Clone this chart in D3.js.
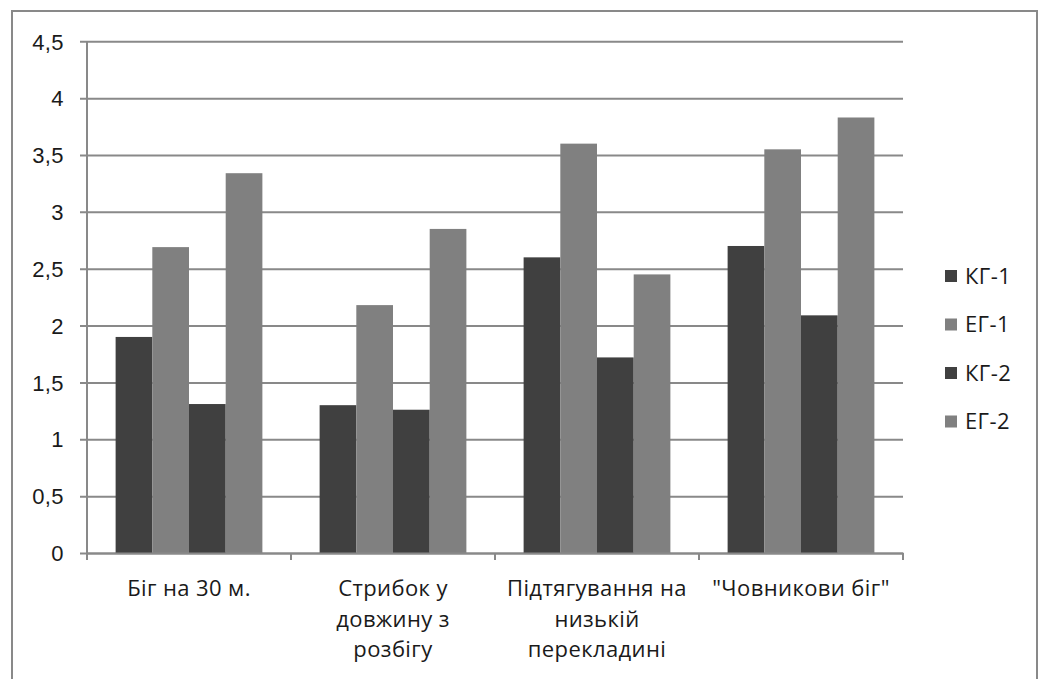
<!DOCTYPE html>
<html>
<head>
<meta charset="utf-8">
<script src="https://cdn.jsdelivr.net/npm/d3@7/dist/d3.min.js"></script>
<style>
  html, body { margin: 0; padding: 0; background: #fff; }
  svg { display: block; font-family: "Open Sans", "Noto Sans", sans-serif; }
  .lbl { font-size: 22px; letter-spacing: 0.4px; }
</style>
</head>
<body>
<svg id="chart" width="1042" height="679"></svg>
<script>
// Exercise categories (x axis), one label line per array entry
const categories = ["Біг на 30 м.", "Стрибок у довжину з розбігу", "Підтягування на низькій перекладині", "\"Човникови біг\""];
const categoryLines = [
  ["Біг на 30 м."],
  ["Стрибок у", "довжину з", "розбігу"],
  ["Підтягування на", "низькій", "перекладині"],
  ["\"Човникови біг\""]
];

// Groups
const seriesNames = ["КГ-1", "ЕГ-1", "КГ-2", "ЕГ-2"];
const seriesColors = ["#404040", "#808080", "#404040", "#808080"];

// Scores per exercise for each group
const kg1 = [1.90, 1.30, 2.60, 2.70];
const eg1 = [2.69, 2.18, 3.60, 3.55];
const kg2 = [1.31, 1.26, 1.72, 2.09];
const eg2 = [3.34, 2.85, 2.45, 3.83];
const seriesValues = [kg1, eg1, kg2, eg2];

// Value axis ticks
const yTicks = [0, 0.5, 1, 1.5, 2, 2.5, 3, 3.5, 4, 4.5];

const svg = d3.select("#chart");
const gridColor = "#898989";
const textColor = "#1a1a1a";

const plot = { left: 87, right: 903, top: 41.3, bottom: 553 };

const y = d3.scaleLinear().domain([0, 4.5]).range([plot.bottom, plot.top]);
const x0 = d3.scaleBand().domain(categories).range([plot.left, plot.right]).padding(0);
const x1 = d3.scaleBand().domain(seriesNames).range([0, x0.bandwidth()])
  .paddingInner(0).paddingOuter(0.78);

const fmt = d3.formatLocale({ decimal: ",", thousands: " ", grouping: [3], currency: ["", ""] }).format("~g");

// Outer frame
svg.append("rect")
  .attr("x", 12).attr("y", 11)
  .attr("width", 1025).attr("height", 700)
  .attr("fill", "none")
  .attr("stroke", gridColor)
  .attr("stroke-width", 2);

// Horizontal gridlines with the value axis
const yAxis = d3.axisLeft(y)
  .tickValues(yTicks)
  .tickSize(-(plot.right - plot.left))
  .tickSizeOuter(0)
  .tickPadding(0)
  .tickFormat(fmt);

const gy = svg.append("g")
  .attr("transform", `translate(${plot.left},0)`)
  .call(yAxis);
gy.select(".domain").remove();
gy.selectAll(".tick line")
  .attr("x1", -7)
  .attr("stroke", gridColor)
  .attr("stroke-width", 2);
gy.selectAll(".tick text")
  .attr("class", "lbl")
  .attr("x", -23)
  .attr("dy", "0.35em")
  .attr("fill", textColor);

// Vertical value axis line
svg.append("line")
  .attr("x1", plot.left).attr("x2", plot.left)
  .attr("y1", plot.top).attr("y2", plot.bottom)
  .attr("stroke", gridColor)
  .attr("stroke-width", 2);

// Bars
const groups = svg.append("g").selectAll("g")
  .data(categories)
  .join("g")
  .attr("transform", d => `translate(${x0(d)},0)`);

groups.selectAll("rect")
  .data((d, i) => seriesNames.map((s, k) => ({ s, k, v: seriesValues[k][i] })))
  .join("rect")
  .attr("x", d => x1(d.s))
  .attr("y", d => y(d.v))
  .attr("width", x1.bandwidth())
  .attr("height", d => y(0) - y(d.v))
  .attr("fill", d => seriesColors[d.k]);

// Category axis
const xAxis = d3.axisBottom(x0).tickSize(0).tickFormat("");
const gx = svg.append("g")
  .attr("transform", `translate(0,${plot.bottom})`)
  .call(xAxis);
gx.select(".domain")
  .attr("stroke", gridColor)
  .attr("stroke-width", 2);

// Tick marks between categories
const boundaries = categories.map(c => x0(c)).concat([x0(categories[categories.length - 1]) + x0.bandwidth()]);
gx.selectAll(".sep")
  .data(boundaries)
  .join("line")
  .attr("class", "sep")
  .attr("x1", d => d).attr("x2", d => d)
  .attr("y1", 0).attr("y2", 7)
  .attr("stroke", gridColor)
  .attr("stroke-width", 2);

// Category labels
const labels = svg.append("g").selectAll("text")
  .data(categories)
  .join("text")
  .attr("class", "lbl")
  .attr("x", d => x0(d) + x0.bandwidth() / 2)
  .attr("y", 596)
  .attr("text-anchor", "middle")
  .attr("fill", textColor);
labels.selectAll("tspan")
  .data((d, i) => categoryLines[i])
  .join("tspan")
  .attr("x", function () { return d3.select(this.parentNode).attr("x"); })
  .attr("dy", (d, i) => i === 0 ? 0 : 30.5)
  .text(d => d);

// Legend
const legend = svg.append("g").selectAll("g")
  .data(seriesNames)
  .join("g")
  .attr("transform", (d, i) => `translate(945,${276 + i * 48.5})`);
legend.append("rect")
  .attr("x", 0).attr("y", -6)
  .attr("width", 12).attr("height", 12)
  .attr("fill", (d, i) => seriesColors[i]);
legend.append("text")
  .attr("class", "lbl")
  .attr("x", 20)
  .attr("dy", "0.35em")
  .attr("fill", textColor)
  .text(d => d);
</script>
</body>
</html>
